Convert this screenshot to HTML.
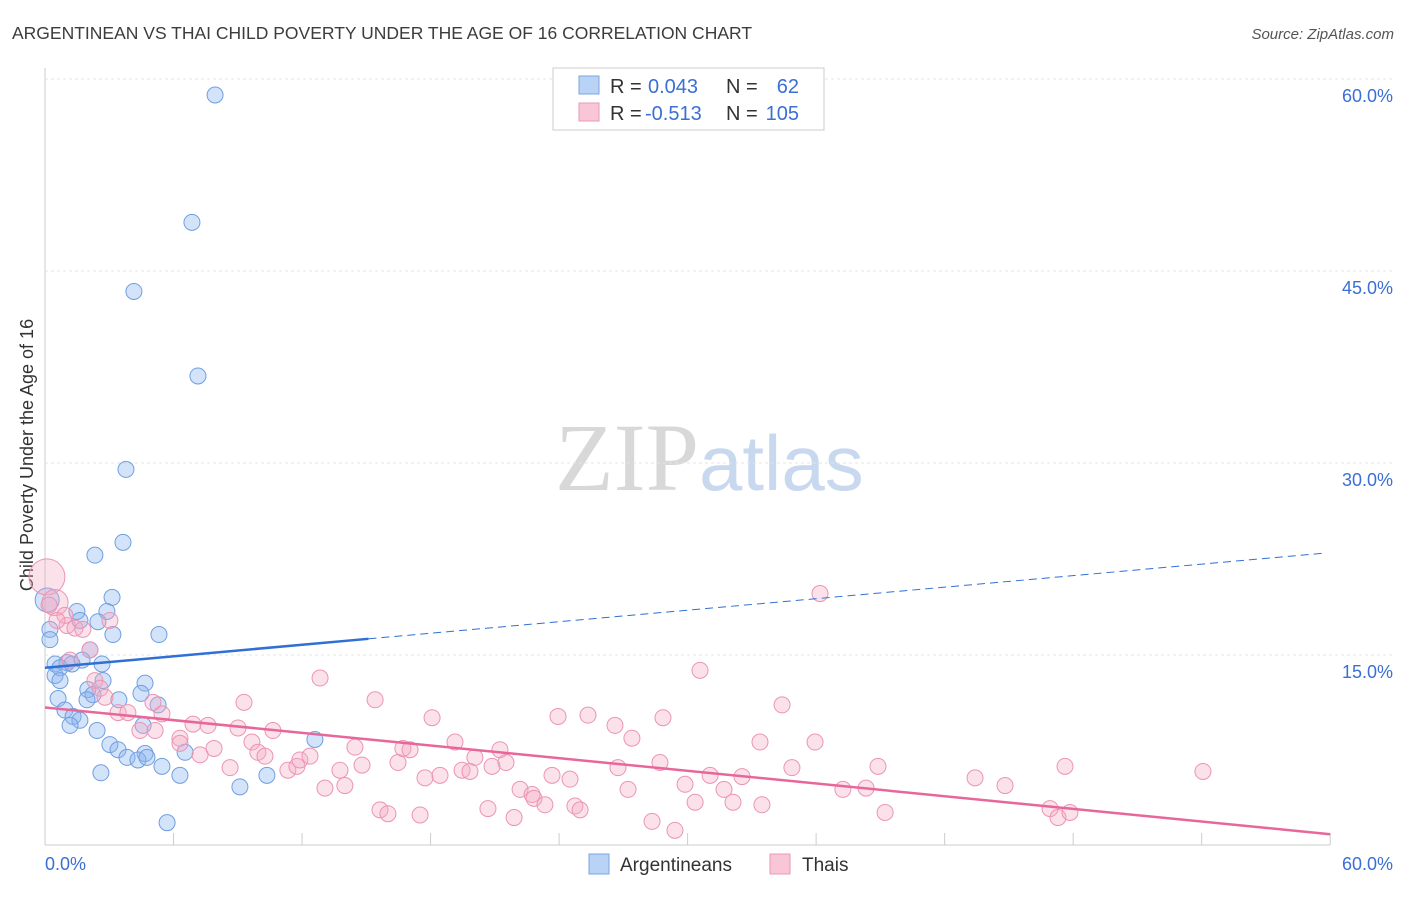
<!DOCTYPE html>
<html><head><meta charset="utf-8"><style>
body{margin:0;background:#fff;font-family:"Liberation Sans",sans-serif;}
</style></head><body>
<svg id="c" width="1406" height="892" xmlns="http://www.w3.org/2000/svg" font-family="Liberation Sans, sans-serif">
<text x="12" y="39" font-size="17.5" fill="#3c3c3c">ARGENTINEAN VS THAI CHILD POVERTY UNDER THE AGE OF 16 CORRELATION CHART</text>
<text x="1394" y="39" font-size="15" fill="#555" font-style="italic" text-anchor="end">Source: ZipAtlas.com</text>
<text x="555" y="490" font-size="96" font-family="Liberation Serif, serif" fill="#d8d8d8">ZIP<tspan fill="#c8d8ef" font-family="Liberation Sans, sans-serif" font-size="78">atlas</tspan></text>
<text transform="translate(33,455) rotate(-90)" font-size="18" fill="#333" text-anchor="middle">Child Poverty Under the Age of 16</text>
<g id="grid"></g><g id="pts"></g><g id="lines"></g>
<g>
<rect x="553" y="68" width="271" height="62" fill="#fff" stroke="#ccc"/>
<rect x="579" y="76" width="20" height="18" fill="#b8d3f5" stroke="#7aa6e0"/>
<rect x="579" y="103" width="20" height="18" fill="#f8c6d6" stroke="#eb98b5"/>
<text x="610" y="93" font-size="20" fill="#333">R =</text>
<text x="648" y="93" font-size="20" fill="#3b6fd4">0.043</text>
<text x="726" y="93" font-size="20" fill="#333">N =</text>
<text x="799" y="93" font-size="20" fill="#3b6fd4" text-anchor="end">62</text>
<text x="610" y="120" font-size="20" fill="#333">R =</text>
<text x="645" y="120" font-size="20" fill="#3b6fd4">-0.513</text>
<text x="726" y="120" font-size="20" fill="#333">N =</text>
<text x="799" y="120" font-size="20" fill="#3b6fd4" text-anchor="end">105</text>
</g>
<g>
<rect x="589" y="854" width="20" height="20" fill="#b8d3f5" stroke="#7aa6e0"/>
<text x="620" y="871" font-size="19" fill="#333">Argentineans</text>
<rect x="770" y="854" width="20" height="20" fill="#f8c6d6" stroke="#eb98b5"/>
<text x="802" y="871" font-size="19" fill="#333">Thais</text>
</g>
</svg>
<script>
const blueX=[7.94,6.86,4.15,7.14,3.78,3.64,2.33,3.13,0.1,1.49,2.89,1.63,2.47,0.23,3.17,5.32,0.23,2.1,1.73,0.47,1.03,2.66,0.7,1.26,0.47,0.7,2.71,4.67,2.0,0.61,3.45,2.24,1.96,5.28,0.93,4.48,1.31,1.63,1.17,4.58,2.43,3.03,3.41,3.83,4.67,4.34,4.76,6.54,12.6,5.46,6.3,2.61,9.1,10.36,5.7];
const blueY=[58.75,48.8,43.4,36.8,29.5,23.8,22.8,19.5,19.3,18.4,18.4,17.7,17.6,17.0,16.6,16.6,16.2,15.4,14.6,14.3,14.4,14.3,14.0,14.3,13.4,13.0,13.0,12.8,12.3,11.6,11.5,11.9,11.5,11.1,10.7,12.0,10.2,9.9,9.5,9.5,9.1,8.0,7.6,7.0,7.3,6.8,7.0,7.4,8.4,6.3,5.6,5.8,4.7,5.6,1.9];
const pinkX=[0.09,0.47,1.03,1.40,3.03,0.93,2.10,2.33,2.57,3.41,3.87,2.80,4.43,5.14,5.46,6.30,6.91,7.24,7.61,7.89,8.64,9.29,9.01,9.66,9.94,10.27,10.64,11.34,11.76,11.9,12.37,12.84,13.07,13.77,14.0,14.47,14.8,15.41,15.64,16.01,16.48,16.71,17.04,17.51,17.74,18.07,18.44,19.14,19.47,19.84,20.07,20.68,20.87,21.24,21.52,21.9,22.18,22.74,22.83,23.34,23.67,23.95,24.51,24.74,24.98,25.35,26.75,26.61,27.22,27.4,28.34,28.71,28.85,29.41,29.88,30.35,30.58,31.05,31.7,32.12,32.54,33.38,33.47,34.41,34.87,35.95,36.18,37.25,38.33,38.89,39.22,43.42,44.82,46.92,47.29,47.62,47.85,54.06,1.17,1.77,0.19,0.56,6.30,5.04];
const pinkY=[21.1,19.1,17.3,17.1,17.7,18.1,15.4,13.0,12.4,10.5,10.5,11.7,9.1,9.1,10.4,8.5,9.6,7.2,9.5,7.7,6.2,11.3,9.3,8.2,7.4,7.1,9.1,6.0,6.3,6.8,7.1,13.2,4.6,6.0,4.8,7.8,6.4,11.5,2.9,2.6,6.6,7.7,7.6,2.5,5.4,10.1,5.6,8.2,6.0,5.9,7.0,3.0,6.3,7.6,6.6,2.3,4.5,4.1,3.8,3.3,5.6,10.2,5.3,3.2,2.9,10.3,6.2,9.5,4.5,8.5,2.0,6.6,10.1,1.3,4.9,3.5,13.8,5.6,4.5,3.5,5.5,8.2,3.3,11.1,6.2,8.2,19.8,4.5,4.6,6.3,2.7,5.4,4.8,3.0,2.3,6.3,2.7,5.9,14.6,17.0,18.9,17.7,8.1,11.3];
const yTicks=[15,30,45,60];
const blueLine=[14.0,23.0], pinkLine=[10.9,1.0];
const NS="http://www.w3.org/2000/svg";
const sx=v=>45+v*21.42, sy=v=>847-v*12.8;
function mk(tag,attrs,parent){const e=document.createElementNS(NS,tag);for(const k in attrs)e.setAttribute(k,attrs[k]);document.getElementById(parent).appendChild(e);return e;}
let e=mk('line',{x1:45,y1:68,x2:45,y2:845,stroke:'#ccc'},'grid');


e=mk('line',{x1:45,y1:845,x2:1330,y2:845,stroke:'#ccc'},'grid');


for(let i=1;i<=10;i++){e=mk('line',{x1:sx(i*6),y1:833,x2:sx(i*6),y2:845,stroke:'#ccc'},'grid');

}
yTicks.forEach(t=>{e=mk('line',{x1:45,y1:sy(t),x2:1395,y2:sy(t),stroke:'#e4e4e4','stroke-dasharray':'3,3'},'grid');


e=mk('text',{x:1393,y:sy(t)+23,'font-size':18,fill:'#3b6fd4','text-anchor':'end'},'grid');e.textContent=t.toFixed(1)+'%';

});
e=mk('text',{x:45,y:870,'font-size':18,fill:'#3b6fd4'},'grid');e.textContent='0.0%';


e=mk('text',{x:1393,y:870,'font-size':18,fill:'#3b6fd4','text-anchor':'end'},'grid');e.textContent='60.0%';


blueX.forEach((x,i)=>{e=mk('circle',{cx:sx(x),cy:sy(blueY[i]),r:i==8?12:8,fill:'rgba(140,182,238,0.38)',stroke:'#6f9fe0','stroke-width':1},'pts');

});
pinkX.forEach((x,i)=>{e=mk('circle',{cx:sx(x),cy:sy(pinkY[i]),r:i==0?18:(i==1?13:8),fill:'rgba(244,170,196,0.35)',stroke:'#ec94b4','stroke-width':1},'pts');

});
const bAt=x=>blueLine[0]+(blueLine[1]-blueLine[0])*x/60;
e=mk('line',{x1:sx(0),y1:sy(bAt(0)),x2:sx(15.1),y2:sy(bAt(15.1)),stroke:'#2f6fd6','stroke-width':2.5},'lines');


e=mk('line',{x1:sx(15.1),y1:sy(bAt(15.1)),x2:sx(59.8),y2:sy(bAt(59.8)),stroke:'#2f6fd6','stroke-width':1,'stroke-dasharray':'8,5'},'lines');


e=mk('line',{x1:sx(0),y1:sy(pinkLine[0]),x2:sx(60),y2:sy(pinkLine[1]),stroke:'#e8679a','stroke-width':2.5},'lines');


</script>
</body></html>
